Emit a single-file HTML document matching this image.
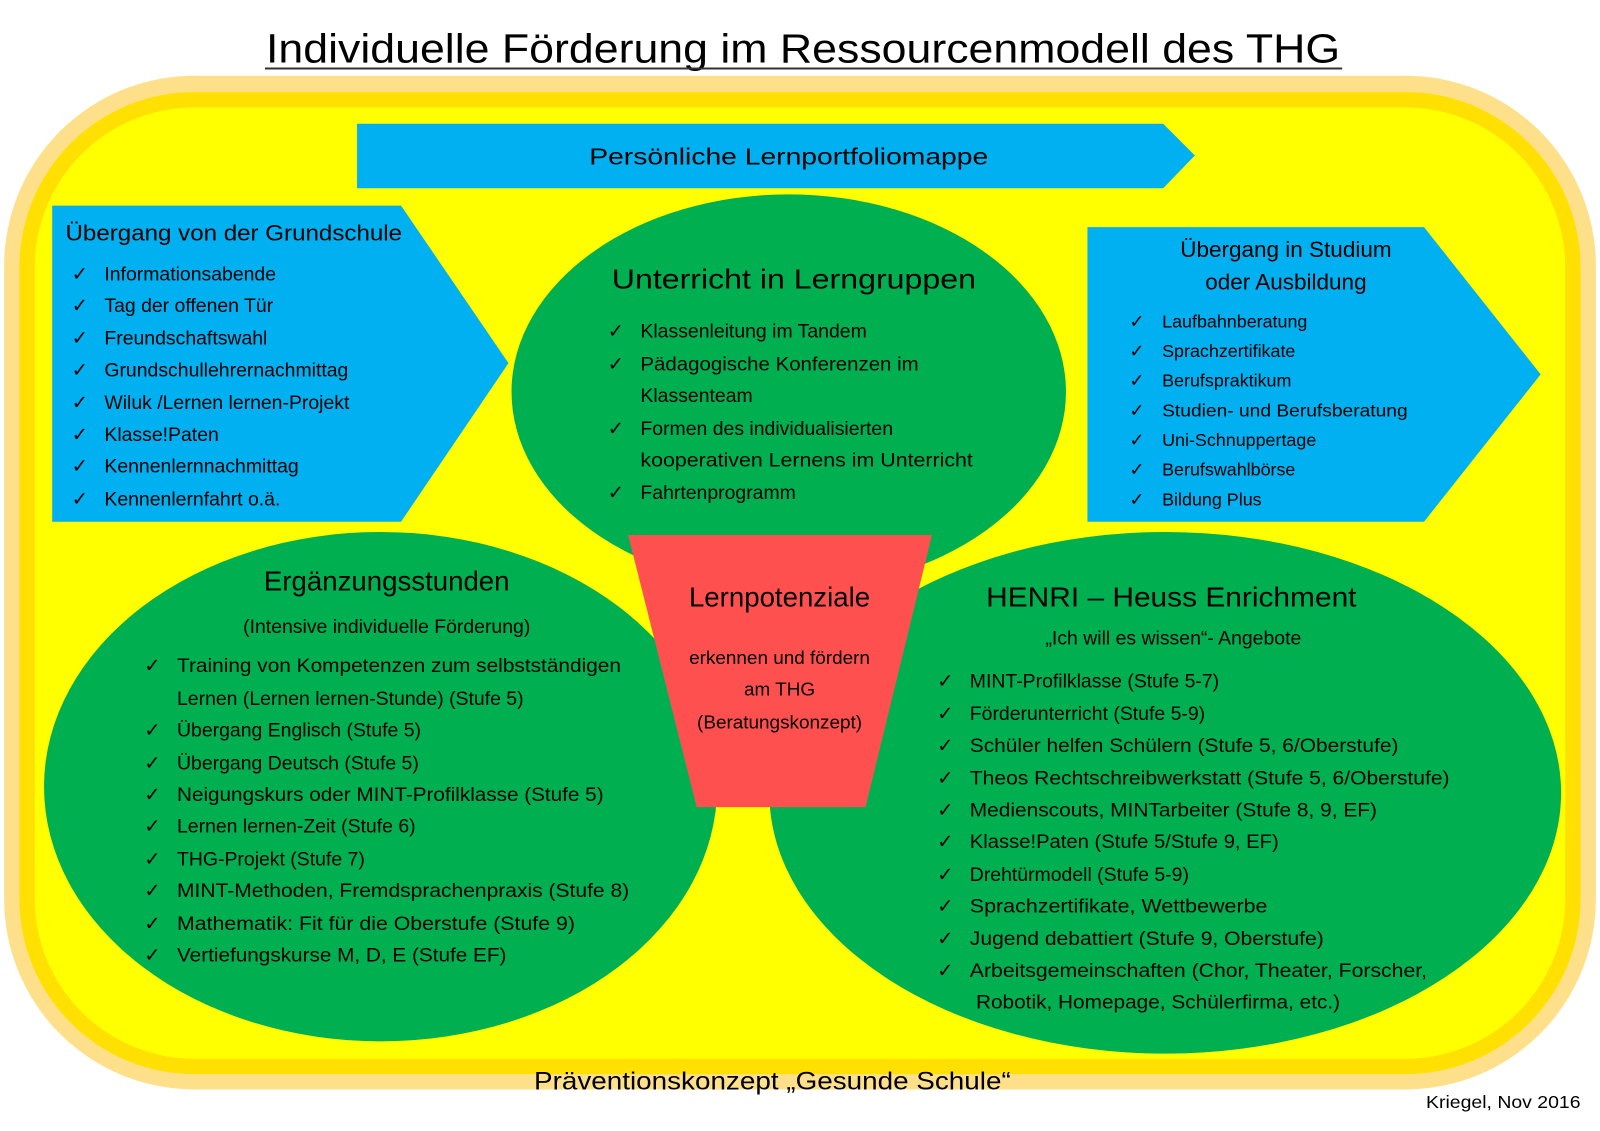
<!DOCTYPE html>
<html><head><meta charset="utf-8"><style>
html,body{margin:0;padding:0;background:#fff;}
svg{display:block;}
text{font-family:"Liberation Sans",sans-serif;fill:#000;}
</style></head><body>
<svg width="1600" height="1131" viewBox="0 0 1564 1105.6" xmlns="http://www.w3.org/2000/svg">
<text x="785" y="61" font-size="40" text-anchor="middle" textLength="1050" lengthAdjust="spacingAndGlyphs">Individuelle Förderung im Ressourcenmodell des THG</text>
<line x1="259" y1="67" x2="1312" y2="67" stroke="#333" stroke-width="2"/>
<rect x="4" y="74" width="1556" height="991" rx="186" fill="#FFE08A"/>
<rect x="19" y="90" width="1526" height="960" rx="171" fill="#FFE000"/>
<rect x="34" y="105" width="1496" height="930" rx="156" fill="#FFFF00"/>
<polygon points="349,121 1137,121 1168,152 1137,184 349,184" fill="#00B0F0"/>
<text x="771" y="161" font-size="23" text-anchor="middle" textLength="390" lengthAdjust="spacingAndGlyphs">Persönliche Lernportfoliomappe</text>
<polygon points="51,201 392,201 497,355 392,510 51,510" fill="#00B0F0"/>
<g font-size="21">
<text x="64" y="235" font-size="22" textLength="329" lengthAdjust="spacingAndGlyphs">Übergang von der Grundschule</text>
<g font-size="19">
<text x="70" y="274">✓</text><text x="102" y="274">Informationsabende</text>
<text x="70" y="305">✓</text><text x="102" y="305">Tag der offenen Tür</text>
<text x="70" y="337">✓</text><text x="102" y="337">Freundschaftswahl</text>
<text x="70" y="368">✓</text><text x="102" y="368">Grundschullehrernachmittag</text>
<text x="70" y="400">✓</text><text x="102" y="400">Wiluk /Lernen lernen-Projekt</text>
<text x="70" y="431">✓</text><text x="102" y="431">Klasse!Paten</text>
<text x="70" y="462">✓</text><text x="102" y="462">Kennenlernnachmittag</text>
<text x="70" y="494">✓</text><text x="102" y="494">Kennenlernfahrt o.ä.</text>
</g></g>
<polygon points="1063,222 1392,222 1506,366 1392,510 1063,510" fill="#00B0F0"/>
<text x="1257" y="251" font-size="22" text-anchor="middle">Übergang in Studium</text>
<text x="1257" y="283" font-size="22" text-anchor="middle">oder Ausbildung</text>
<g font-size="17.5">
<text x="1104" y="320">✓</text><text x="1136" y="320">Laufbahnberatung</text>
<text x="1104" y="349">✓</text><text x="1136" y="349">Sprachzertifikate</text>
<text x="1104" y="378">✓</text><text x="1136" y="378">Berufspraktikum</text>
<text x="1104" y="407">✓</text><text x="1136" y="407" textLength="240" lengthAdjust="spacingAndGlyphs">Studien- und Berufsberatung</text>
<text x="1104" y="436">✓</text><text x="1136" y="436">Uni-Schnuppertage</text>
<text x="1104" y="465">✓</text><text x="1136" y="465">Berufswahlbörse</text>
<text x="1104" y="494">✓</text><text x="1136" y="494">Bildung Plus</text>
</g>
<ellipse cx="771" cy="383" rx="271" ry="193" fill="#00B050"/>
<text x="776" y="282" font-size="27" text-anchor="middle" textLength="356" lengthAdjust="spacingAndGlyphs">Unterricht in Lerngruppen</text>
<g font-size="19">
<text x="594" y="330">✓</text><text x="626" y="330">Klassenleitung im Tandem</text>
<text x="594" y="362">✓</text><text x="626" y="362" textLength="272" lengthAdjust="spacingAndGlyphs">Pädagogische Konferenzen im</text>
<text x="626" y="393">Klassenteam</text>
<text x="594" y="425">✓</text><text x="626" y="425">Formen des individualisierten</text>
<text x="626" y="456" textLength="325" lengthAdjust="spacingAndGlyphs">kooperativen Lernens im Unterricht</text>
<text x="594" y="488">✓</text><text x="626" y="488">Fahrtenprogramm</text>
</g>
<ellipse cx="372" cy="769" rx="329" ry="249" fill="#00B050"/>
<text x="378" y="577" font-size="27" text-anchor="middle">Ergänzungsstunden</text>
<text x="378" y="619" font-size="19" text-anchor="middle">(Intensive individuelle Förderung)</text>
<g font-size="19">
<text x="141" y="657">✓</text><text x="173" y="657" textLength="434" lengthAdjust="spacingAndGlyphs">Training von Kompetenzen zum selbstständigen</text>
<text x="173" y="689">Lernen (Lernen lernen-Stunde) (Stufe 5)</text>
<text x="141" y="720">✓</text><text x="173" y="720">Übergang Englisch (Stufe 5)</text>
<text x="141" y="752">✓</text><text x="173" y="752">Übergang Deutsch (Stufe 5)</text>
<text x="141" y="783">✓</text><text x="173" y="783" textLength="417" lengthAdjust="spacingAndGlyphs">Neigungskurs oder MINT-Profilklasse (Stufe 5)</text>
<text x="141" y="814">✓</text><text x="173" y="814">Lernen lernen-Zeit (Stufe 6)</text>
<text x="141" y="846">✓</text><text x="173" y="846">THG-Projekt (Stufe 7)</text>
<text x="141" y="877">✓</text><text x="173" y="877" textLength="442" lengthAdjust="spacingAndGlyphs">MINT-Methoden, Fremdsprachenpraxis (Stufe 8)</text>
<text x="141" y="909">✓</text><text x="173" y="909" textLength="389" lengthAdjust="spacingAndGlyphs">Mathematik: Fit für die Oberstufe (Stufe 9)</text>
<text x="141" y="940">✓</text><text x="173" y="940" textLength="322" lengthAdjust="spacingAndGlyphs">Vertiefungskurse  M, D, E (Stufe EF)</text>
</g>
<ellipse cx="1139" cy="775" rx="387" ry="255" fill="#00B050"/>
<text x="1145" y="593" font-size="27" text-anchor="middle" textLength="362" lengthAdjust="spacingAndGlyphs">HENRI – Heuss Enrichment</text>
<text x="1147" y="630" font-size="19" text-anchor="middle">„Ich will es wissen“- Angebote</text>
<g font-size="19">
<text x="916" y="672">✓</text><text x="948" y="672">MINT-Profilklasse (Stufe 5-7)</text>
<text x="916" y="704">✓</text><text x="948" y="704">Förderunterricht (Stufe 5-9)</text>
<text x="916" y="735">✓</text><text x="948" y="735" textLength="419" lengthAdjust="spacingAndGlyphs">Schüler helfen Schülern (Stufe 5, 6/Oberstufe)</text>
<text x="916" y="767">✓</text><text x="948" y="767" textLength="469" lengthAdjust="spacingAndGlyphs">Theos Rechtschreibwerkstatt (Stufe 5, 6/Oberstufe)</text>
<text x="916" y="798">✓</text><text x="948" y="798" textLength="398" lengthAdjust="spacingAndGlyphs">Medienscouts, MINTarbeiter (Stufe 8, 9, EF)</text>
<text x="916" y="829">✓</text><text x="948" y="829" textLength="302" lengthAdjust="spacingAndGlyphs">Klasse!Paten (Stufe 5/Stufe 9, EF)</text>
<text x="916" y="861">✓</text><text x="948" y="861">Drehtürmodell (Stufe 5-9)</text>
<text x="916" y="892">✓</text><text x="948" y="892" textLength="291" lengthAdjust="spacingAndGlyphs">Sprachzertifikate, Wettbewerbe</text>
<text x="916" y="924">✓</text><text x="948" y="924" textLength="346" lengthAdjust="spacingAndGlyphs">Jugend debattiert (Stufe 9, Oberstufe)</text>
<text x="916" y="955">✓</text><text x="948" y="955" textLength="447" lengthAdjust="spacingAndGlyphs">Arbeitsgemeinschaften  (Chor, Theater, Forscher,</text>
<text x="954" y="986" textLength="356" lengthAdjust="spacingAndGlyphs">Robotik, Homepage, Schülerfirma, etc.)</text>
</g>
<polygon points="614,523 911,523 846,789 681,789" fill="#FF5050"/>
<text x="762" y="593" font-size="27" text-anchor="middle">Lernpotenziale</text>
<g font-size="18.5" text-anchor="middle">
<text x="762" y="649">erkennen und fördern</text>
<text x="762" y="680">am THG</text>
<text x="762" y="712">(Beratungskonzept)</text>
</g>
<text x="755" y="1065" font-size="24" text-anchor="middle" textLength="466" lengthAdjust="spacingAndGlyphs">Präventionskonzept „Gesunde Schule“</text>
<text x="1394" y="1083" font-size="17" textLength="151" lengthAdjust="spacingAndGlyphs">Kriegel,  Nov 2016</text>
</svg>
</body></html>
